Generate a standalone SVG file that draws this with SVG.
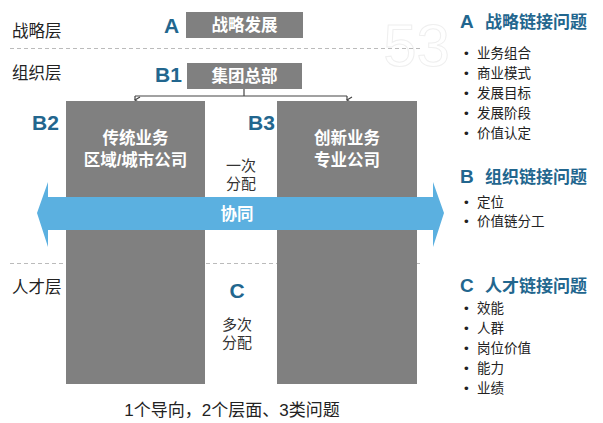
<svg xmlns="http://www.w3.org/2000/svg" width="603" height="423" viewBox="0 0 603 423">
<defs>
<style>
.zh{font-family:"Liberation Sans","Noto Sans CJK SC",sans-serif;}
.lay{font-size:16.5px;fill:#222;}
.box{fill:#808080;}
.bt{font-size:16.5px;font-weight:bold;fill:#fff;text-anchor:middle;}
.let{font-size:21px;font-weight:bold;fill:#22668e;}
.mid{font-size:15px;fill:#333;text-anchor:middle;}
.hd{font-size:17px;font-weight:bold;fill:#22668e;}
.hl{font-size:19px;font-weight:bold;fill:#22668e;}
.it{font-size:13.5px;fill:#222;}
.dash{stroke:#bbb;stroke-width:1;stroke-dasharray:4 3;fill:none;}
.conn{stroke:#444;stroke-width:1.2;fill:none;}
</style>
<marker id="ah" viewBox="0 0 8 8" refX="4" refY="6" markerWidth="8" markerHeight="8" markerUnits="userSpaceOnUse" orient="auto-start-reverse">
<path d="M1,1 L4,6 L7,1" fill="none" stroke="#444" stroke-width="1.2"/>
</marker>
</defs>
<rect width="603" height="423" fill="#fff"/>
<text x="450" y="66" class="zh" font-size="60" text-anchor="end" fill="none" stroke="#efefef" stroke-width="1">53</text>
<g id="layers">
<text x="12" y="37" class="zh lay">战略层</text>
<text x="12" y="79" class="zh lay">组织层</text>
<text x="12" y="293" class="zh lay">人才层</text>
<line x1="10" y1="48.5" x2="422" y2="48.5" class="dash"/>
<line x1="10" y1="263.5" x2="422" y2="263.5" class="dash"/>
</g>
<g id="nodeA">
<text x="164" y="33" class="zh let">A</text>
<rect x="186" y="12" width="117" height="26" class="box"/>
<text x="244.5" y="31" class="zh bt">战略发展</text>
</g>
<g id="nodeB1">
<text x="155" y="82" class="zh let">B1</text>
<rect x="187" y="63" width="115" height="26" class="box"/>
<text x="244.5" y="82" class="zh bt">集团总部</text>
</g>
<g id="connectors">
<path d="M244,89 V96" class="conn"/>
<path d="M135,96 H347" class="conn"/>
<path d="M135,96 V100" class="conn" marker-end="url(#ah)"/>
<path d="M347,96 V100" class="conn" marker-end="url(#ah)"/>
</g>
<g id="nodeB2">
<text x="32" y="130" class="zh let">B2</text>
<rect x="66" y="101" width="139" height="283" class="box"/>
<text x="135.5" y="144" class="zh bt" font-size="17">传统业务</text>
<text x="135.5" y="166" class="zh bt" font-size="17">区域/城市公司</text>
</g>
<g id="nodeB3">
<text x="248" y="130" class="zh let">B3</text>
<rect x="277" y="101" width="140" height="283" class="box"/>
<text x="347" y="144" class="zh bt" font-size="17">创新业务</text>
<text x="347" y="166" class="zh bt" font-size="17">专业公司</text>
</g>
<g id="once">
<text x="241" y="171" class="zh mid">一次</text>
<text x="241" y="189" class="zh mid">分配</text>
</g>
<g id="synergy">
<polygon points="37,213 48,182 48,197 433,197 433,182 444,213 433,247 433,230 48,230 48,247" fill="#5bb0e0"/>
<text x="237" y="220" class="zh bt" font-size="16">协同</text>
</g>
<g id="nodeC">
<text x="237" y="298" class="zh let" text-anchor="middle">C</text>
<text x="237" y="330" class="zh mid">多次</text>
<text x="237" y="348" class="zh mid">分配</text>
</g>
<text x="232" y="416" class="zh" font-size="17" fill="#222" text-anchor="middle">1个导向，2个层面、3类问题</text>
<g id="listA">
<text x="460" y="28" class="zh hl">A</text>
<text x="485" y="28" class="zh hd">战略链接问题</text>
<text x="464" y="58" class="zh it">•</text><text x="477" y="58" class="zh it">业务组合</text>
<text x="464" y="78" class="zh it">•</text><text x="477" y="78" class="zh it">商业模式</text>
<text x="464" y="98" class="zh it">•</text><text x="477" y="98" class="zh it">发展目标</text>
<text x="464" y="118" class="zh it">•</text><text x="477" y="118" class="zh it">发展阶段</text>
<text x="464" y="138" class="zh it">•</text><text x="477" y="138" class="zh it">价值认定</text>
</g>
<g id="listB">
<text x="460" y="183" class="zh hl">B</text>
<text x="485" y="183" class="zh hd">组织链接问题</text>
<text x="464" y="207" class="zh it">•</text><text x="477" y="207" class="zh it">定位</text>
<text x="464" y="226" class="zh it">•</text><text x="477" y="226" class="zh it">价值链分工</text>
</g>
<g id="listC">
<text x="460" y="292" class="zh hl">C</text>
<text x="485" y="292" class="zh hd">人才链接问题</text>
<text x="464" y="313" class="zh it">•</text><text x="477" y="313" class="zh it">效能</text>
<text x="464" y="333" class="zh it">•</text><text x="477" y="333" class="zh it">人群</text>
<text x="464" y="353" class="zh it">•</text><text x="477" y="353" class="zh it">岗位价值</text>
<text x="464" y="373" class="zh it">•</text><text x="477" y="373" class="zh it">能力</text>
<text x="464" y="393" class="zh it">•</text><text x="477" y="393" class="zh it">业绩</text>
</g>
</svg>
